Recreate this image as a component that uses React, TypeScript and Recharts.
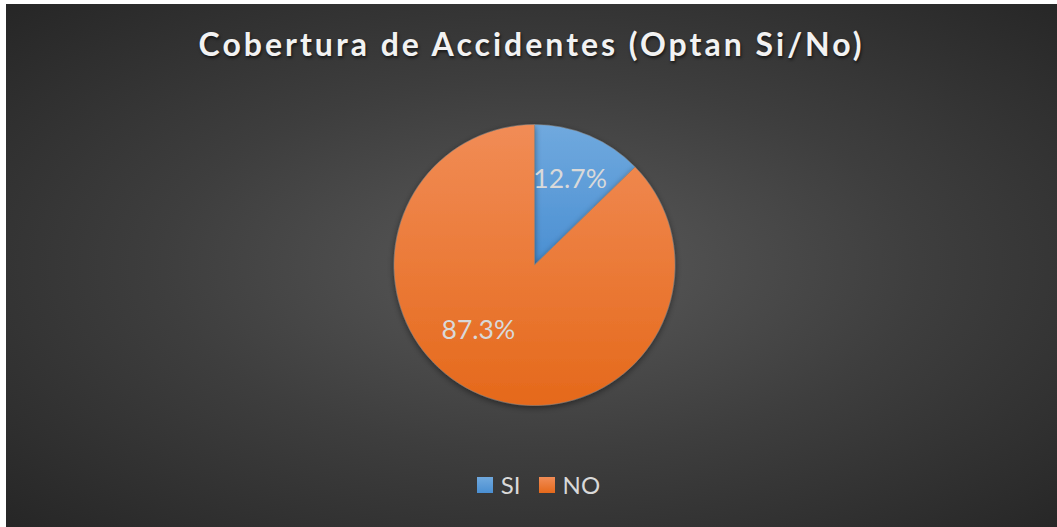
import { PieChart, Pie, Cell, Legend } from "recharts";

const categories = ["SI", "NO"];
const shares = [12.7, 87.3];
const sliceTop = ["#70a9de", "#f18c56"];
const sliceBottom = ["#4a8fd2", "#e5691b"];

const data = categories.map((name, i) => ({ name, value: shares[i] }));

const RAD = Math.PI / 180;

// Excel "best fit" puts the big slice label off its mid-angle a bit
const labelTweak = [
  { da: 0.6, k: 0.67 },
  { da: -18.5, k: 0.605 },
];

function renderLabel(props: any) {
  const { cx, cy, midAngle, outerRadius, index, value } = props;
  const t = labelTweak[index] ?? { da: 0, k: 0.65 };
  const a = (midAngle + t.da) * RAD;
  const r = outerRadius * t.k;
  const x = cx + r * Math.cos(a);
  const y = cy - r * Math.sin(a);
  return (
    <text
      x={x}
      y={y}
      fill="#d9d9d9"
      fontSize={26.5}
      fontFamily="Lato"
      textAnchor="middle"
      dominantBaseline="central"
    >
      {value.toFixed(1)}%
    </text>
  );
}

export default function App() {
  return (
    <div
      style={{
        position: "absolute",
        width: 1051,
        height: 523,
        left: 6,
        top: 4,
        background:
          "radial-gradient(ellipse farthest-corner at 51% 50%, #5a5a5a 0%, #3e3e3e 50%, #262626 100%)",
        fontFamily: "Lato",
      }}
    >
      <div
        style={{
          position: "absolute",
          top: 20,
          left: 0,
          width: 1051,
          textAlign: "center",
          color: "#f2f2f2",
          fontSize: 32,
          fontWeight: 700,
          letterSpacing: 3,
          textShadow: "1px 2px 3px rgba(0,0,0,0.6)",
        }}
      >
        Cobertura de Accidentes (Optan Si/No)
      </div>
      <PieChart
        width={1051}
        height={523}
        margin={{ top: 0, right: 0, bottom: 0, left: 0 }}
        style={{ position: "absolute", top: 0, left: 0 }}
      >
        <defs>
          {categories.map((c, i) => (
            <linearGradient key={c} id={`g${i}`} x1="0" y1="0" x2="0" y2="1">
              <stop offset="0%" stopColor={sliceTop[i]} />
              <stop offset="100%" stopColor={sliceBottom[i]} />
            </linearGradient>
          ))}
          <filter id="shadow" x="-20%" y="-20%" width="140%" height="140%">
            <feDropShadow dx="0" dy="2" stdDeviation="3" floodColor="#000" floodOpacity="0.45" />
          </filter>
        </defs>
        <Pie
          data={data}
          dataKey="value"
          nameKey="name"
          cx={528.5}
          cy={261}
          outerRadius={140.5}
          startAngle={90}
          endAngle={-270}
          stroke="#8a8a8a"
          strokeWidth={0.5}
          label={renderLabel}
          labelLine={false}
          isAnimationActive={false}
          style={{ filter: "url(#shadow)" }}
        >
          {data.map((d, i) => (
            <Cell key={d.name} fill={`url(#g${i})`} />
          ))}
        </Pie>
        <Legend
          verticalAlign="bottom"
          align="center"
          iconType="square"
          iconSize={16}
          itemSorter={null as any}
          wrapperStyle={{ bottom: 28, left: 16 }}
          formatter={(v: string) => (
            <span
              style={{
                color: "#d9d9d9",
                fontSize: 24,
                fontFamily: "Lato",
                verticalAlign: "middle",
                marginLeft: 4,
                marginRight: 8,
              }}
            >
              {v}
            </span>
          )}
        />
      </PieChart>
    </div>
  );
}
